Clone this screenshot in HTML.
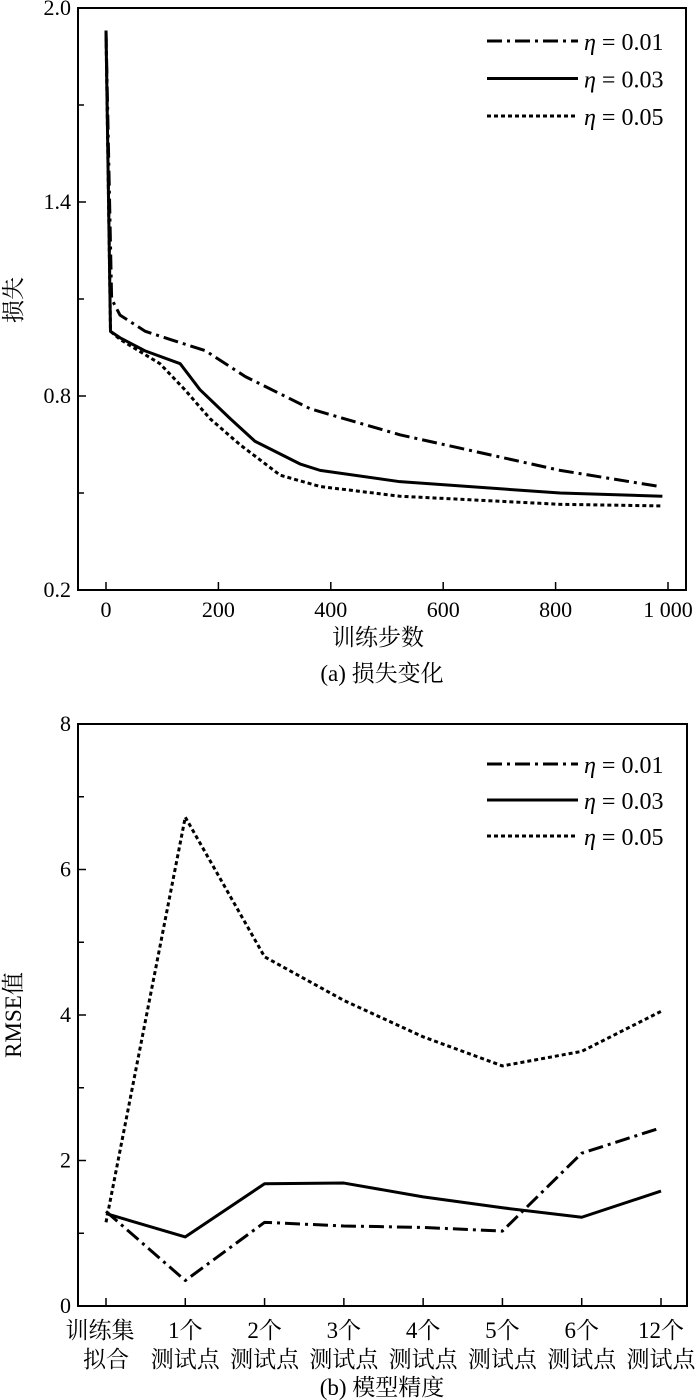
<!DOCTYPE html>
<html><head><meta charset="utf-8"><style>
html,body{margin:0;padding:0;background:#fff;}
svg{display:block;}
text{font-family:"Liberation Serif","Noto Serif CJK SC",serif;fill:#000;}
</style></head><body>
<svg id="s" width="700" height="1400" viewBox="0 0 700 1400"></svg>
<script>
// ---- chart (a) data ----
const lossSteps01 = [0, 10, 25, 70, 114, 177, 248, 364, 523, 808, 985];
const loss01 = [1.93, 1.1, 1.05, 1.0, 0.975, 0.94, 0.86, 0.76, 0.68, 0.57, 0.52];
const lossSteps03 = [0, 8, 25, 69, 132, 167, 221, 265, 345, 381, 523, 808, 990];
const loss03 = [1.93, 1.0, 0.98, 0.94, 0.9, 0.82, 0.73, 0.66, 0.59, 0.57, 0.535, 0.5, 0.49];
const lossSteps05 = [0, 8, 25, 96, 140, 185, 238, 310, 381, 523, 808, 990];
const loss05 = [1.93, 1.0, 0.975, 0.9, 0.82, 0.73, 0.65, 0.555, 0.52, 0.49, 0.465, 0.46];
const lossXTicks = [0, 200, 400, 600, 800, 1000];
const lossXTickLabels = ["0", "200", "400", "600", "800", "1 000"];
const lossYTicks = [0.2, 0.8, 1.4, 2.0];
const lossYMinor = [0.5, 1.1, 1.7];
// ---- chart (b) data ----
const cats1 = ["训练集", "1个", "2个", "3个", "4个", "5个", "6个", "12个"];
const cats2 = ["拟合", "测试点", "测试点", "测试点", "测试点", "测试点", "测试点", "测试点"];
const rmse01 = [1.3, 0.35, 1.15, 1.1, 1.08, 1.03, 2.1, 2.45];
const rmse03 = [1.27, 0.95, 1.68, 1.69, 1.5, 1.35, 1.22, 1.58];
const rmse05 = [1.15, 6.72, 4.8, 4.2, 3.7, 3.3, 3.5, 4.05];
const rmseYTicks = [0, 2, 4, 6, 8];
const rmseYMinor = [1, 3, 5, 7];

const NS = "http://www.w3.org/2000/svg";
const svg = document.getElementById('s');
function mk(tag, attrs, parent) {
  const e = document.createElementNS(NS, tag);
  for (const k in attrs) e.setAttribute(k, attrs[k]);
  (parent || svg).appendChild(e);
  return e;
}
const styles = {
  s01: {"stroke-dasharray": "15 5 3 5", "stroke-width": 3},
  s03: {"stroke-width": 3},
  s05: {"stroke-dasharray": "4 3", "stroke-width": 3}
};
function line(pts, st, parent, name) {
  const p = mk('polyline', Object.assign({points: pts.map(q => q.join(',')).join(' '), fill: 'none', stroke: '#000', 'stroke-linejoin': 'round'}, st), parent);
  
  
  return p;
}
function txt(x, y, s, size, anchor, parent, name) {
  const t = mk('text', {x: x, y: y, 'font-size': size, 'text-anchor': anchor || 'middle'}, parent);
  t.textContent = s;
  
  
  return t;
}
function legend(g, y0, dy, prefix) {
  const names = ["0.01", "0.03", "0.05"], st = [styles.s01, styles.s03, styles.s05];
  for (let i = 0; i < 3; i++) {
    const y = y0 + i * dy;
    line([[487, y], [578, y]], st[i], g, prefix + '-legend-line-' + (i + 1));
    const t = mk('text', {x: 584, y: y + 9, 'font-size': 24}, g);
    
    
    const ts = mk('tspan', {'font-style': 'italic'}, t); ts.textContent = 'η';
    const ts2 = mk('tspan', {}, t); ts2.textContent = ' = ' + names[i];
  }
}

// ===== chart (a) =====
const ga = mk('g', {});


const ax = v => 106 + v * (668 - 106) / 1000;
const ay = v => 8 + (2.0 - v) * (590 - 8) / 1.8;
const fa = mk('rect', {x: 78, y: 8, width: 608, height: 582, fill: 'none', stroke: '#000', 'stroke-width': 2}, ga);


lossXTicks.forEach((v, i) => {
  mk('line', {x1: ax(v), x2: ax(v), y1: 590, y2: 582, stroke: '#000', 'stroke-width': 1.5}, ga);
  txt(ax(v), 617, lossXTickLabels[i], 22, 'middle', ga, 'loss-x-tick-label');
});
lossYTicks.forEach(v => {
  mk('line', {x1: 78, x2: 86, y1: ay(v), y2: ay(v), stroke: '#000', 'stroke-width': 1.5}, ga);
  txt(71, ay(v) + 7, v.toFixed(1), 22, 'end', ga, 'loss-y-tick-label');
});
lossYMinor.forEach(v => mk('line', {x1: 78, x2: 84, y1: ay(v), y2: ay(v), stroke: '#000', 'stroke-width': 1.5}, ga));
line(lossSteps01.map((s, i) => [ax(s), ay(loss01[i])]), styles.s01, ga, 'loss-series-eta-0.01');
line(lossSteps03.map((s, i) => [ax(s), ay(loss03[i])]), styles.s03, ga, 'loss-series-eta-0.03');
line(lossSteps05.map((s, i) => [ax(s), ay(loss05[i])]), styles.s05, ga, 'loss-series-eta-0.05');
legend(ga, 41, 37.5, 'loss');
txt(378, 645, '训练步数', 23, 'middle', ga, 'loss-x-axis-title');
txt(382, 681, '(a) 损失变化', 23, 'middle', ga, 'loss-caption');
const yt = txt(0, 0, '损失', 23, 'middle', ga, 'loss-y-axis-title');
yt.setAttribute('transform', 'translate(21,300) rotate(-90)');

// ===== chart (b) =====
const gb = mk('g', {});


const bx = i => 106 + i * (661 - 106) / 7;
const by = v => 1306 - v * (1306 - 724) / 8;
const fb = mk('rect', {x: 78, y: 724, width: 609, height: 582, fill: 'none', stroke: '#000', 'stroke-width': 2}, gb);


cats1.forEach((c, i) => {
  mk('line', {x1: bx(i), x2: bx(i), y1: 1306, y2: 1298, stroke: '#000', 'stroke-width': 1.5}, gb);
  txt(bx(i) - (i === 0 ? 6 : 0), 1338, c, 23, 'middle', gb, 'rmse-x-tick-label');
  txt(bx(i), 1367, cats2[i], 23, 'middle', gb, 'rmse-x-tick-label-line2');
});
rmseYTicks.forEach(v => {
  mk('line', {x1: 78, x2: 86, y1: by(v), y2: by(v), stroke: '#000', 'stroke-width': 1.5}, gb);
  txt(71, by(v) + 7, String(v), 22, 'end', gb, 'rmse-y-tick-label');
});
rmseYMinor.forEach(v => mk('line', {x1: 78, x2: 84, y1: by(v), y2: by(v), stroke: '#000', 'stroke-width': 1.5}, gb));
line(rmse01.map((v, i) => [bx(i), by(v)]), styles.s01, gb, 'rmse-series-eta-0.01');
line(rmse03.map((v, i) => [bx(i), by(v)]), styles.s03, gb, 'rmse-series-eta-0.03');
line(rmse05.map((v, i) => [bx(i), by(v)]), styles.s05, gb, 'rmse-series-eta-0.05');
legend(gb, 764, 36, 'rmse');
txt(382, 1395, '(b) 模型精度', 23, 'middle', gb, 'rmse-caption');
const yt2 = txt(0, 0, 'RMSE值', 23, 'middle', gb, 'rmse-y-axis-title');
yt2.setAttribute('transform', 'translate(21,1015) rotate(-90)');
</script>
</body></html>
